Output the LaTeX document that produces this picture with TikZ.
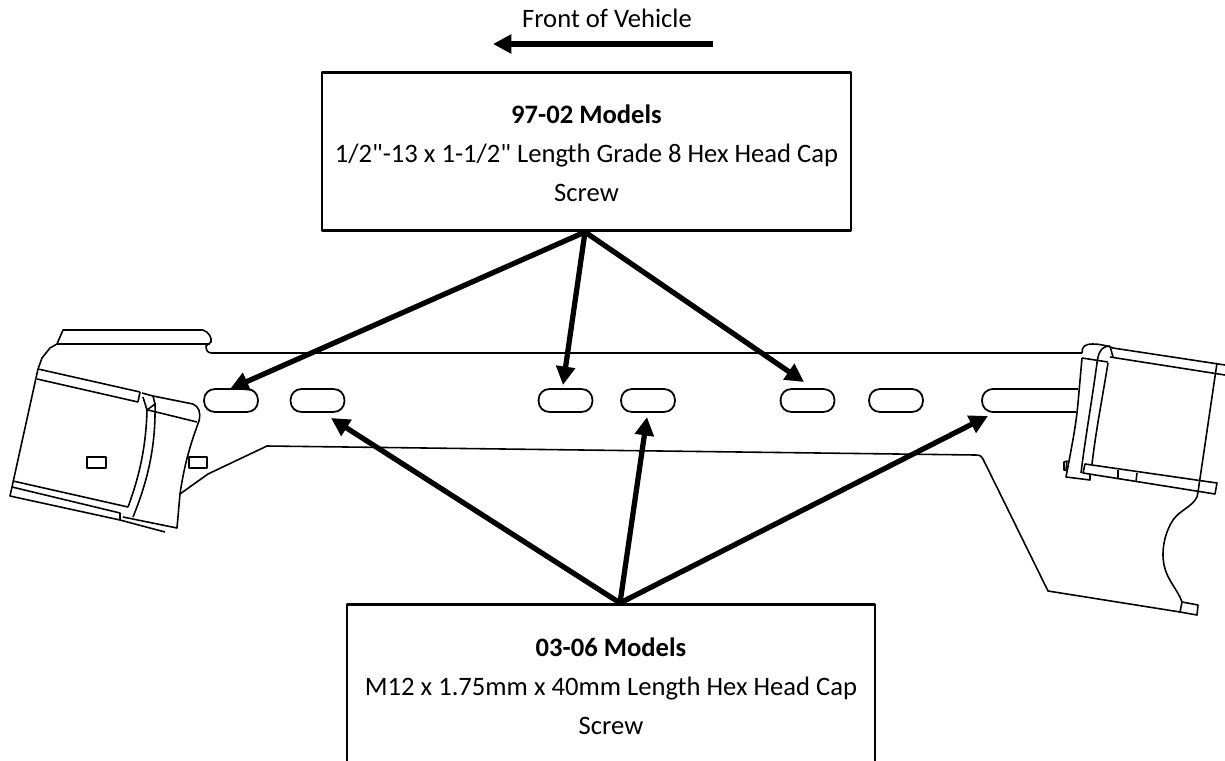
\documentclass[tikz,border=0pt]{standalone}
\usepackage{fontspec}
\setmainfont{Carlito}[Ligatures=TeXOff]
\usetikzlibrary{arrows.meta}

\begin{document}
\begin{tikzpicture}[x=0.02cm,y=-0.02cm,line join=round]
    \tikzstyle{slot}=[draw=black,fill=white,line width=1pt,rounded corners=6pt,minimum width=30.6pt,minimum height=13pt,inner sep=0pt]
    \tikzstyle{box}=[draw=black,fill=white,line width=1.4pt,inner sep=0pt,align=center,font=\fontsize{15.15}{22.1}\selectfont]
    \tikzstyle{pointer}=[line width=3pt,-{Triangle[length=10.5pt,width=10.5pt]}]
    \tikzstyle{part}=[line width=0.9pt]
    \useasboundingbox (0,0) rectangle (1225,761);
    \clip (0,0) rectangle (1225,761);

    % bracket, long edges
    \draw[part] (57,344) -- (63,330) -- (203,330) .. controls (209,332) and (212,338) .. (211,342) -- (206,346) .. controls (206,351) and (208,353) .. (212,353) -- (1082,353);
    \draw[part] (57,344) -- (210,344);
    \draw[part] (180,494) -- (208,474) -- (267,446) -- (975,455) .. controls (980,455) and (982,456) .. (983,459) -- (1048,591) -- (1180,612);
    \draw[part] (1197,497) .. controls (1192,507) and (1180,510) .. (1173,520) .. controls (1165,532) and (1161,550) .. (1164,565) .. controls (1167,580) and (1178,590) .. (1182,602);
    \draw[part] (1182,602) -- (1198,605) -- (1197,615) -- (1180,612) -- cycle;

    % left end
    \draw[part] (57,344) -- (50,348) -- (42,358) -- (38,369) -- (10,496) -- (120,520) -- (165,532);
    \draw[part] (38,369) -- (140,392);
    \draw[part] (37,379) -- (138,402);
    \draw[part] (13,481) -- (128,507);
    \draw[part] (12,487) -- (120,513) -- (120,520);
    \draw[part] (142,393) -- (153,396) -- (193,404) .. controls (199,407) and (201,412) .. (199,421) .. controls (192,440) and (185,460) .. (180,494) -- (177,528) -- (123,517);
    \draw[part] (148,410) -- (197,422);
    \draw[part] (140,392) -- (138,402);
    \draw[part] (147,410) .. controls (146,450) and (138,480) .. (128,507);
    \draw[part] (155,404) .. controls (156,450) and (146,485) .. (133,517);
    \draw[part] (153,396) -- (155,404) -- (147,410) -- (143,397);
    \draw[part] (87,457) rectangle (106,468);
    \draw[part] (189,457) rectangle (207,468);

    % slots
    \foreach \num/\x in {1/231, 2/317.5, 3/565.5, 4/648, 5/807.5, 6/896}
        \node[slot] (S-\num) at (\x,400.5) {};
    \draw[part,line width=1pt] (1078,389) -- (994,389) .. controls (986,389) and (982,394) .. (982,400.5) .. controls (982,407) and (986,412) .. (994,412) -- (1076,412);

    % right end
    \draw[part] (1082,353) .. controls (1082,347) and (1084,344) .. (1093,344) .. controls (1100,344) and (1108,346) .. (1113,348) -- (1225,365);
    \draw[part] (1110,357) -- (1225,375);
    \draw[part] (1082,358) -- (1108,362);
    \draw[part] (1082,358) -- (1078,403) .. controls (1076,425) and (1073,440) .. (1066,477) -- (1090,480) -- (1090,474);
    \draw[part] (1064,462) -- (1067,461) -- (1066,470) -- (1064,470) -- cycle;
    \draw[part] (1110,346) .. controls (1100,346) and (1098,355) .. (1097,363) .. controls (1092,400) and (1085,440) .. (1081,473);
    \draw[part] (1108,363) .. controls (1102,400) and (1096,430) .. (1092,464);
    \draw[part] (1110,346) -- (1113,357);
    \draw[part] (1085,464) -- (1217,483) -- (1215,494) -- (1083,473) -- cycle;
    \draw[part] (1118,470) -- (1118,479);
    \draw[part] (1137,473) -- (1136,482);
    \draw[part] (1217,363) -- (1198,492) -- (1197,497);

    % labels and pointers
    \node[box,minimum width=301pt,minimum height=90pt] (topbox) at (586.5,151.5) {\rule{0pt}{12.5pt}\textbf{97-02 Models}\\1/2"-13 x 1-1/2" Length Grade 8 Hex Head Cap\\Screw};
    \node[box,minimum width=300.5pt,minimum height=93pt] (botbox) at (611,686) {\textbf{03-06 Models}\\M12 x 1.75mm x 40mm Length Hex Head Cap\\Screw};
    \node[font=\fontsize{15.15}{18}\selectfont,inner sep=0pt] (front) at (607,18) {Front of Vehicle};

    \coordinate (frontfrom) at (713,44);
    \coordinate (fronto) at (493,44);
    \draw[pointer] (frontfrom) -- (fronto);

    \coordinate (topapex) at (585,232);
    \coordinate (botapex) at (620,603);
    \foreach \name/\x/\y in {a/230/389, b/563/385, c/804/382}
        \coordinate (T-\name) at (\x,\y);
    \foreach \name/\x/\y in {a/331/418, b/647/417, c/988/416}
        \coordinate (B-\name) at (\x,\y);

    \foreach \to in {a,b,c}
        \draw[pointer] (topapex) -- (T-\to);
    \foreach \to in {a,b,c}
        \draw[pointer] (botapex) -- (B-\to);
\end{tikzpicture}
\end{document}
